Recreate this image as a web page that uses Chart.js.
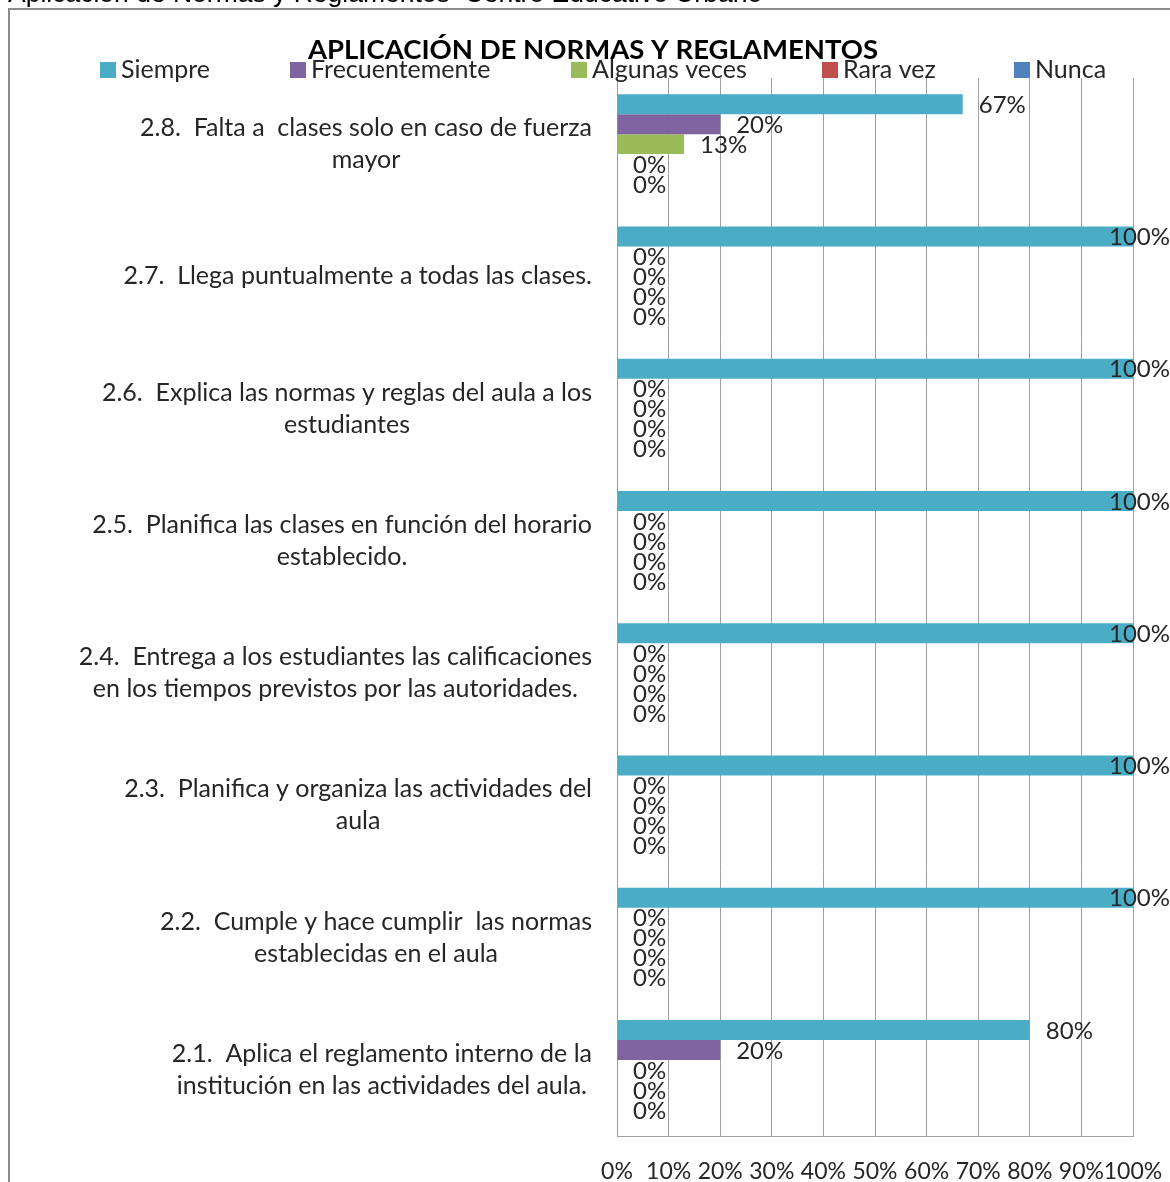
<!DOCTYPE html>
<html>
<head>
<meta charset="utf-8">
<script src="https://cdn.jsdelivr.net/npm/chart.js@4.4.1/dist/chart.umd.min.js"></script>
<style>
  html, body { margin: 0; padding: 0; background: #fff; }
  #wrap { position: absolute; left: 0; top: 0; width: 1170px; height: 1182px; }
</style>
</head>
<body>
<div id="wrap"><canvas id="chart" width="1170" height="1182"></canvas></div>
<script>
const pageTitle = 'Aplicación de Normas y Reglamentos  Centro Educativo Urbano';
const chartTitle = 'APLICACIÓN DE NORMAS Y REGLAMENTOS';

const categories = [
  ['2.8.  Falta a  clases solo en caso de fuerza', 'mayor'],
  ['2.7.  Llega puntualmente a todas las clases.'],
  ['2.6.  Explica las normas y reglas del aula a los', 'estudiantes'],
  ['2.5.  Planifica las clases en función del horario', 'establecido.'],
  ['2.4.  Entrega a los estudiantes las calificaciones', 'en los tiempos previstos por las autoridades.'],
  ['2.3.  Planifica y organiza las actividades del', 'aula'],
  ['2.2.  Cumple y hace cumplir  las normas', 'establecidas en el aula'],
  ['2.1.  Aplica el reglamento interno de la', 'institución en las actividades del aula.']
];

const seriesNames = ['Siempre', 'Frecuentemente', 'Algunas veces', 'Rara vez', 'Nunca'];
const siempre        = [67, 100, 100, 100, 100, 100, 100, 80];
const frecuentemente = [20, 0, 0, 0, 0, 0, 0, 20];
const algunasVeces   = [13, 0, 0, 0, 0, 0, 0, 0];
const raraVez        = [0, 0, 0, 0, 0, 0, 0, 0];
const nunca          = [0, 0, 0, 0, 0, 0, 0, 0];

const xTicks = [0, 10, 20, 30, 40, 50, 60, 70, 80, 90, 100];

const colors = ['#4BACC6', '#8064A2', '#9BBB59', '#C0504D', '#4F81BD'];
const legendX = [100, 290, 571, 822, 1014];

const labelFont = '25px Lato';
const valueFont = '24px Lato';
const textColor = '#262626';

// frame, cut-off heading, title and legend
const decorPlugin = {
  id: 'decor',
  beforeDraw(chart) {
    const ctx = chart.ctx;
    ctx.save();
    ctx.fillStyle = '#fff';
    ctx.fillRect(0, 0, chart.width, chart.height);
    ctx.strokeStyle = '#8c8c8c';
    ctx.lineWidth = 2;
    ctx.beginPath();
    ctx.moveTo(9, chart.height + 5);
    ctx.lineTo(9, 9);
    ctx.lineTo(chart.width + 5, 9);
    ctx.stroke();

    ctx.fillStyle = '#000';
    ctx.font = '26.5px "Liberation Sans", Arial';
    ctx.textBaseline = 'alphabetic';
    ctx.textAlign = 'left';
    ctx.fillText(pageTitle, 8, 2);
    ctx.restore();
  },
  afterDraw(chart) {
    const ctx = chart.ctx;
    ctx.save();
    ctx.fillStyle = '#000';
    ctx.font = 'bold 27.5px Lato';
    ctx.textAlign = 'center';
    ctx.textBaseline = 'middle';
    ctx.fillText(chartTitle, 593, 50);

    ctx.font = labelFont;
    ctx.textAlign = 'left';
    seriesNames.forEach(function(name, i) {
      ctx.fillStyle = colors[i];
      ctx.fillRect(legendX[i], 62, 16, 16);
      ctx.fillStyle = textColor;
      ctx.fillText(name, legendX[i] + 21, 70);
    });
    ctx.restore();
  }
};

// category labels, right aligned block with centered lines
const catLabelPlugin = {
  id: 'catLabels',
  afterDraw(chart) {
    const ctx = chart.ctx;
    const yScale = chart.scales.y;
    ctx.save();
    ctx.font = labelFont;
    ctx.fillStyle = textColor;
    ctx.textAlign = 'center';
    ctx.textBaseline = 'middle';
    categories.forEach(function(lines, i) {
      let maxW = 0;
      lines.forEach(function(l) { maxW = Math.max(maxW, ctx.measureText(l).width); });
      const cx = 592 - maxW / 2;
      const cy = yScale.getPixelForValue(i);
      lines.forEach(function(l, k) {
        ctx.fillText(l, cx, cy + (k - (lines.length - 1) / 2) * 32);
      });
    });
    ctx.restore();
  }
};

// value labels next to bar ends
const valueLabelPlugin = {
  id: 'valueLabels',
  afterDatasetsDraw(chart) {
    const ctx = chart.ctx;
    ctx.save();
    ctx.font = valueFont;
    ctx.fillStyle = textColor;
    ctx.textAlign = 'left';
    ctx.textBaseline = 'middle';
    chart.data.datasets.forEach(function(ds, di) {
      const meta = chart.getDatasetMeta(di);
      meta.data.forEach(function(bar, i) {
        const txt = ds.data[i] + '%';
        const w = ctx.measureText(txt).width;
        let x = bar.x + 16;
        if (x + w > chart.width) x = chart.width - w;
        ctx.fillText(txt, x, bar.y + 1);
      });
    });
    ctx.restore();
  }
};

const seriesData = [siempre, frecuentemente, algunasVeces, raraVez, nunca];

const ctx = document.getElementById('chart').getContext('2d');
const myChart = new Chart(ctx, {
  type: 'bar',
  data: {
    labels: categories,
    datasets: seriesNames.map(function(name, i) {
      return {
        label: name,
        data: seriesData[i],
        backgroundColor: colors[i],
        borderWidth: 0,
        categoryPercentage: 0.756,
        barPercentage: 1.0
      };
    })
  },
  options: {
    indexAxis: 'y',
    responsive: false,
    animation: false,
    layout: { padding: { top: 78, right: 37, left: 0, bottom: 0 } },
    plugins: {
      legend: { display: false },
      title: { display: false },
      tooltip: { enabled: false }
    },
    scales: {
      x: {
        min: 0,
        max: 100,
        afterBuildTicks(scale) {
          scale.ticks = xTicks.map(function(v) { return { value: v }; });
        },
        ticks: {
          callback: function(v) { return v + '%'; },
          font: { family: 'Lato', size: 23 },
          color: textColor,
          padding: 22,
          maxRotation: 0,
          autoSkip: false
        },
        grid: { color: '#a0a0a0', lineWidth: 1, drawTicks: false },
        border: { color: '#a0a0a0' },
        afterFit(scale) {
          scale.height = 46;
          scale.paddingLeft = 0;
          scale.paddingRight = 0;
        }
      },
      y: {
        ticks: { display: false },
        grid: { display: false },
        border: { color: '#a0a0a0' },
        afterFit(scale) { scale.width = 617; }
      }
    }
  },
  plugins: [decorPlugin, catLabelPlugin, valueLabelPlugin]
});
</script>
</body>
</html>
